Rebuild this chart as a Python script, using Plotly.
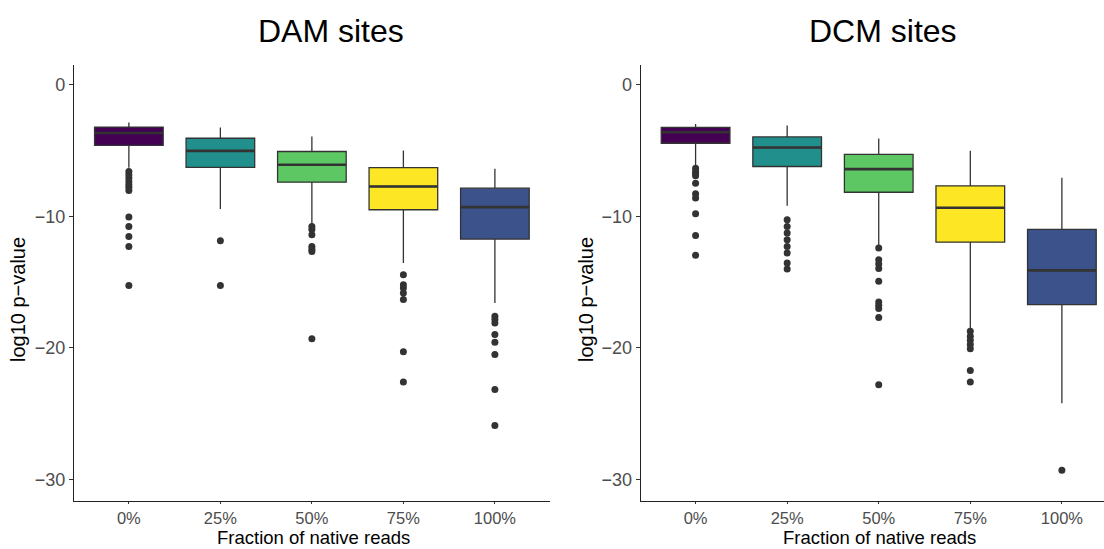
import plotly.graph_objects as go

categories = ["0%", "25%", "50%", "75%", "100%"]
colors = ["#440154", "#21908C", "#5DC863", "#FDE725", "#3B528B"]

# DAM sites
dam_upper = [-2.86, -3.24, -3.92, -4.99, -6.38]
dam_q3 = [-3.2, -4.05, -5.06, -6.28, -7.85]
dam_median = [-3.65, -5.01, -6.07, -7.72, -9.29]
dam_q1 = [-4.6, -6.27, -7.39, -9.49, -11.72]
dam_lower = [-6.3, -9.44, -10.6, -13.54, -16.58]
dam_outliers = [
    [-6.58, -6.83, -7.08, -7.34, -7.59, -7.77, -8.02, -10.05, -10.76, -11.52, -12.28, -15.26],
    [-11.85, -15.26],
    [-10.76, -11.0, -11.4, -12.28, -12.5, -12.66, -19.3],
    [-14.43, -15.19, -15.44, -15.82, -16.32, -20.3, -22.6],
    [-17.59, -17.84, -18.1, -18.98, -19.56, -20.5, -23.16, -25.9],
]

# DCM sites
dcm_upper = [-2.96, -3.09, -4.07, -5.0, -7.05]
dcm_q3 = [-3.23, -3.95, -5.28, -7.67, -10.98]
dcm_median = [-3.6, -4.76, -6.4, -9.34, -14.1]
dcm_q1 = [-4.43, -6.2, -8.16, -11.96, -16.7]
dcm_lower = [-6.2, -9.19, -12.28, -18.6, -24.2]
dcm_outliers = [
    [-6.33, -6.58, -6.76, -6.91, -7.47, -8.28, -8.6, -9.8, -11.44, -12.96],
    [-10.25, -10.76, -11.26, -11.77, -12.28, -12.78, -13.54, -13.99],
    [-12.4, -13.29, -13.62, -13.96, -14.93, -16.5, -16.75, -17.0, -17.68, -22.8],
    [-18.73, -19.11, -19.41, -19.74, -20.07, -21.72, -22.6],
    [-29.3],
]

ytick_vals = [0, -10, -20, -30]
ytick_text = ["0", "\u221210", "\u221220", "\u221230"]

BOX_W = 0.75
fig = go.Figure()

def add_panel(xa, ya, upper, q3, med, q1, lower, outliers):
    for i, cat in enumerate(categories):
        fig.add_trace(go.Box(
            x=[i], q1=[q1[i]], median=[med[i]], q3=[q3[i]],
            lowerfence=[lower[i]], upperfence=[upper[i]],
            width=BOX_W, whiskerwidth=0, boxpoints=False,
            fillcolor=colors[i], line=dict(color="#333333", width=1.3),
            xaxis=xa, yaxis=ya, showlegend=False, hoverinfo="skip",
        ))
        # thicker median line, as in ggplot
        fig.add_trace(go.Scatter(
            x=[i - BOX_W / 2, i + BOX_W / 2], y=[med[i], med[i]],
            mode="lines", line=dict(color="#333333", width=2.6),
            xaxis=xa, yaxis=ya, showlegend=False, hoverinfo="skip",
        ))
        fig.add_trace(go.Scatter(
            x=[i] * len(outliers[i]), y=outliers[i], mode="markers",
            marker=dict(color="#333333", size=7),
            xaxis=xa, yaxis=ya, showlegend=False, hoverinfo="skip",
        ))

add_panel("x", "y", dam_upper, dam_q3, dam_median, dam_q1, dam_lower, dam_outliers)
add_panel("x2", "y2", dcm_upper, dcm_q3, dcm_median, dcm_q1, dcm_lower, dcm_outliers)

FONT = "Liberation Sans, Arial, Helvetica, sans-serif"
xcommon = dict(
    tickmode="array", tickvals=list(range(5)), ticktext=categories,
    showline=True, linecolor="#222222", linewidth=1.2, ticks="outside",
    ticklen=2, tickcolor="#333333", tickwidth=1, showgrid=False, zeroline=False,
    tickfont=dict(size=16.5, color="#4d4d4d", family=FONT),
)
ycommon = dict(
    tickmode="array", tickvals=ytick_vals, ticktext=ytick_text,
    range=[-31.64, 1.52], domain=[0.0875, 0.8816],
    showline=True, linecolor="#222222", linewidth=1.2, ticks="outside",
    ticklen=4, tickcolor="#333333", tickwidth=1, showgrid=False, zeroline=False,
    tickfont=dict(size=18, color="#4d4d4d", family=FONT),
)

def ann(text, x_px, y_px, size, angle=0, yanchor="middle"):
    return dict(text=text, x=x_px / 1104, y=1 - y_px / 549, xref="paper", yref="paper",
                xanchor="center", yanchor=yanchor, textangle=angle, showarrow=False,
                borderpad=0, font=dict(size=size, color="black", family=FONT))

fig.update_layout(
    width=1104, height=549,
    margin=dict(l=0, r=0, t=0, b=0),
    paper_bgcolor="white", plot_bgcolor="white",
    font=dict(family=FONT),
    xaxis=dict(domain=[0.067, 0.498], range=[-0.6, 4.6], anchor="y", **xcommon),
    yaxis=dict(anchor="x", **ycommon),
    xaxis2=dict(domain=[0.5803, 1.0], range=[-0.6, 4.46], anchor="y2", **xcommon),
    yaxis2=dict(anchor="x2", **ycommon),
    annotations=[
        ann("DAM sites", 331, 31, 32),
        ann("DCM sites", 883, 31, 32),
        ann("Fraction of native reads", 313, 549, 18.5, yanchor="bottom"),
        ann("Fraction of native reads", 879, 549, 18.5, yanchor="bottom"),
        ann("log10 p\u2212value", 18, 300, 20, -90),
        ann("log10 p\u2212value", 586, 300, 20, -90),
    ],
)

fig.write_html("out.html")
